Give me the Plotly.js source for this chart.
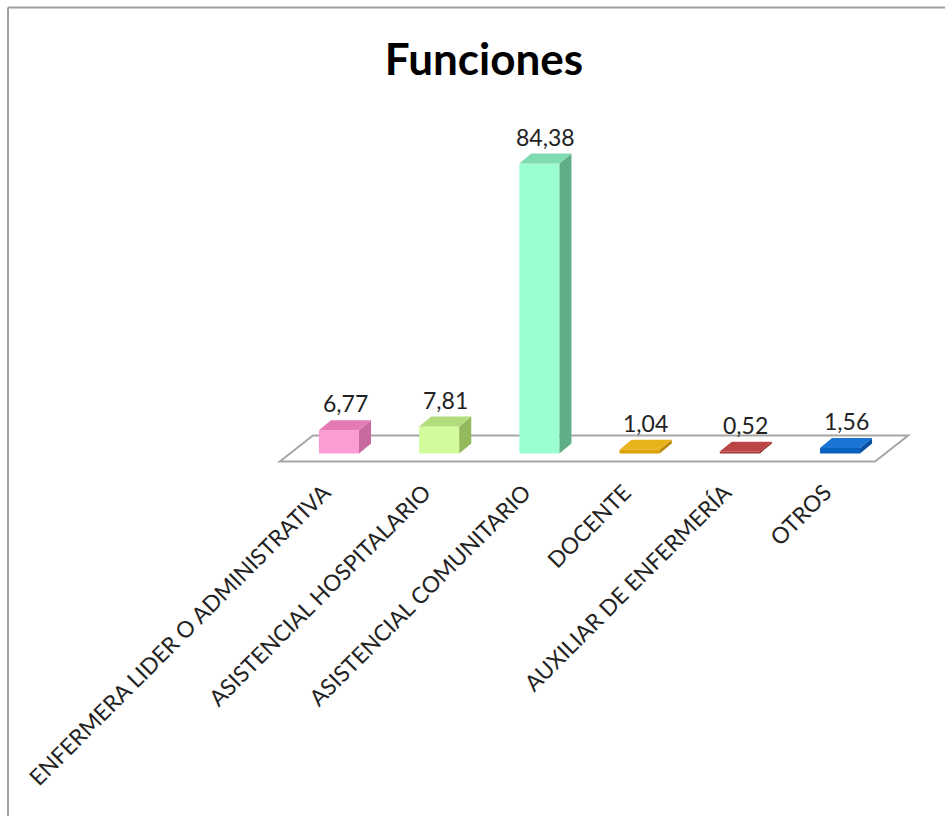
<!DOCTYPE html>
<html>
<head>
<meta charset="utf-8">
<script src="https://cdn.plot.ly/plotly-3.0.1.min.js"></script>
<style>
  html, body { margin: 0; padding: 0; background: #ffffff; }
  #chart { width: 945px; height: 816px; }
</style>
</head>
<body>
<div id="chart"></div>
<script>
// ---- data ----
const categories = [
  "ENFERMERA LIDER O ADMINISTRATIVA",
  "ASISTENCIAL HOSPITALARIO",
  "ASISTENCIAL COMUNITARIO",
  "DOCENTE",
  "AUXILIAR DE ENFERMERÍA",
  "OTROS"
];
const values = [6.77, 7.81, 84.38, 1.04, 0.52, 1.56];

// ---- styles ----
const frontColors = ["#fb9dd2", "#d2fc9c", "#9cffd0", "#d9a200", "#a83434", "#0a62c0"];
const topColors   = ["#e47ab6", "#b3dc7c", "#7fdcb0", "#e8b21a", "#bb4444", "#1a74d4"];
const sideColors  = ["#c86a9f", "#94b85c", "#5fae88", "#b88800", "#8a2828", "#0850a0"];

const BAR_W = 0.40;     // category units
const DEPTH_X = 0.12;   // category units
const DEPTH_Y = 2.9;    // value units
const FLOOR = { fl: -0.59, fr: 5.35, bl: -0.26, br: 5.68, front: -2.35, back: 5.2 };

const W = 945, H = 816;
const L = 250, R = 15, T = 126.5, B = 342.4;
const XR = [-0.888, 5.898];
const YR = [-6, 95];

function paperX(px) { return (px - L) / (W - L - R); }
function paperY(py) { return (H - B - py) / (H - T - B); }

const shapes = [];
// floor
shapes.push({
  type: "path", xref: "x", yref: "y", layer: "below",
  path: `M ${FLOOR.fl} ${FLOOR.front} L ${FLOOR.bl} ${FLOOR.back} L ${FLOOR.br} ${FLOOR.back} L ${FLOOR.fr} ${FLOOR.front} Z`,
  line: { color: "#a6a6a6", width: 2 }, fillcolor: "#ffffff"
});
// 3D faces for each bar computed from values
values.forEach((v, i) => {
  const xl = i - BAR_W / 2, xr = i + BAR_W / 2;
  shapes.push({
    type: "path", xref: "x", yref: "y", layer: "above",
    path: `M ${xr} 0 L ${xr + DEPTH_X} ${DEPTH_Y} L ${xr + DEPTH_X} ${v + DEPTH_Y} L ${xr} ${v} Z`,
    fillcolor: sideColors[i], line: { width: 0 }
  });
  shapes.push({
    type: "path", xref: "x", yref: "y", layer: "above",
    path: `M ${xl} ${v} L ${xl + DEPTH_X} ${v + DEPTH_Y} L ${xr + DEPTH_X} ${v + DEPTH_Y} L ${xr} ${v} Z`,
    fillcolor: topColors[i], line: { width: 0 }
  });
});
// outer frame (left and top edges)
shapes.push({ type: "line", xref: "paper", yref: "paper",
  x0: paperX(8), x1: paperX(8), y0: paperY(7), y1: paperY(H + 5),
  line: { color: "#a0a0a0", width: 2 } });
shapes.push({ type: "line", xref: "paper", yref: "paper",
  x0: paperX(8), x1: paperX(W + 5), y0: paperY(7), y1: paperY(7),
  line: { color: "#a0a0a0", width: 2 } });

const fmt = v => v.toFixed(2).replace(".", ",");
const annotations = values.map((v, i) => ({
  x: i + DEPTH_X / 2, y: v + DEPTH_Y, xref: "x", yref: "y",
  text: fmt(v), showarrow: false, yanchor: "middle", yshift: 17,
  font: { family: "Lato, sans-serif", size: 23, color: "#222222" }
}));

const trace = {
  type: "bar",
  x: categories,
  y: values,
  width: BAR_W,
  marker: { color: frontColors, line: { width: 0 } },
  hoverinfo: "skip"
};

const layout = {
  width: W, height: H,
  margin: { l: L, r: R, t: T, b: B, pad: 0 },
  paper_bgcolor: "#ffffff", plot_bgcolor: "rgba(0,0,0,0)",
  title: {
    text: "<b>Funciones</b>",
    x: 484 / W, xref: "container", xanchor: "center",
    y: 1 - 60 / H, yref: "container", yanchor: "middle",
    font: { family: "Lato, sans-serif", size: 44, color: "#000000" }
  },
  showlegend: false,
  xaxis: {
    type: "category", range: XR, tickangle: -45,
    showline: false, showgrid: false, zeroline: false, ticks: "",
    ticklabelshift: -15,
    tickfont: { family: "Lato, sans-serif", size: 22.5, color: "#222222" },
    fixedrange: true
  },
  yaxis: {
    range: YR, visible: false, showgrid: false, zeroline: false, fixedrange: true
  },
  shapes: shapes,
  annotations: annotations
};

Plotly.newPlot("chart", [trace], layout, { displayModeBar: false, staticPlot: true });
</script>
</body>
</html>
